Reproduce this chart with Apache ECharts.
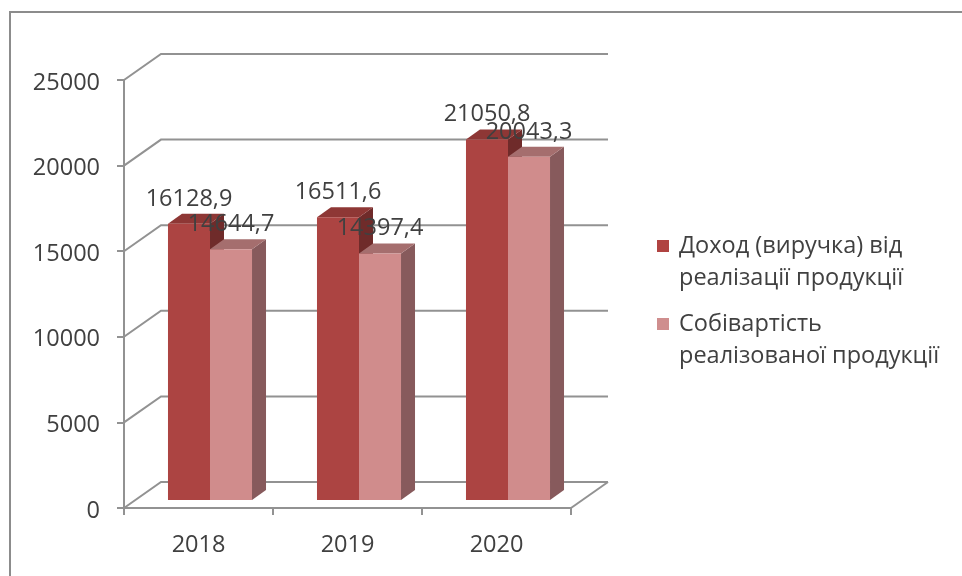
<!DOCTYPE html>
<html>
<head>
<meta charset="utf-8">
<style>html,body{margin:0;padding:0;background:#fff}#chart{width:962px;height:576px}</style>
<script src="https://cdn.jsdelivr.net/npm/echarts@6/dist/echarts.min.js"></script>
</head>
<body>
<div id="chart"></div>
<script>
const categories = ['2018', '2019', '2020'];
const revenue = [16128.9, 16511.6, 21050.8];
const cost = [14644.7, 14397.4, 20043.3];
const revenueName = 'Доход (виручка) від\nреалізації продукції';
const costName = 'Собівартість\nреалізованої продукції';
const yTicks = [0, 5000, 10000, 15000, 20000, 25000];

const FONT = '"Open Sans", sans-serif';
const FONT_SIZE = 23.5;
const TEXT = '#404040';
const LINE = '#929292';
const WALL = { dx: 37, dy: -26 };        // depth of the back wall
const BAR = { dx: 14, dy: -10, inset: 11.5, drop: 8, share: 0.282 };

const fmt = v => String(v).replace('.', ',');

// Back wall and floor: each tick runs diagonally back from the axis, then along the wall.
function renderWall(params, api) {
  const cs = params.coordSys;
  const y = api.coord([0, api.value(1)])[1];
  const children = [{
    type: 'polyline',
    shape: { points: [[cs.x, y], [cs.x + WALL.dx, y + WALL.dy], [cs.x + cs.width + WALL.dx, y + WALL.dy]] },
    style: { stroke: LINE, lineWidth: 2, fill: null }
  }];
  if (api.value(1) === 0) {
    children.push({
      type: 'line',
      shape: { x1: cs.x + cs.width, y1: y, x2: cs.x + cs.width + WALL.dx, y2: y + WALL.dy },
      style: { stroke: LINE, lineWidth: 2 }
    });
  }
  return { type: 'group', children };
}

// Extruded column: front face, top and right side, with the value above it.
function makeBar(slot, colors) {
  return function (params, api) {
    const c = api.value(0), v = api.value(1);
    const p = api.coord([c, v]);
    const base = api.coord([c, 0]);
    const w = api.size([1, 0])[0] * BAR.share;
    const x0 = p[0] + BAR.inset + (slot === 0 ? -w : 0);
    const x1 = x0 + w;
    const bottom = base[1] - BAR.drop;
    const fTop = p[1] - BAR.drop;
    const dx = BAR.dx, dy = BAR.dy;
    return {
      type: 'group',
      children: [
        { type: 'polygon', shape: { points: [[x1, fTop], [x1 + dx, fTop + dy], [x1 + dx, bottom + dy], [x1, bottom]] }, style: { fill: colors.side } },
        { type: 'polygon', shape: { points: [[x0, fTop], [x0 + dx, fTop + dy], [x1 + dx, fTop + dy], [x1, fTop]] }, style: { fill: colors.top } },
        { type: 'rect', shape: { x: x0, y: fTop, width: w, height: bottom - fTop }, style: { fill: colors.front } },
        { type: 'text', z2: 100, style: { text: fmt(v), x: (x0 + x1) / 2, y: fTop - 25, align: 'center', verticalAlign: 'middle', fill: TEXT, font: FONT_SIZE + 'px ' + FONT } }
      ]
    };
  };
}

const revColors = { front: '#AC4442', top: '#8E3735', side: '#6F2B2A' };
const costColors = { front: '#D08C8C', top: '#A56E6E', side: '#875A5C' };

const legendIcon = 'path://M0 0H12V12H0Z M12 44L12 44';

const option = {
  animation: false,
  backgroundColor: '#fff',
  grid: { left: 124, top: 80, width: 447, height: 428, containLabel: false },
  legend: {
    orient: 'vertical', left: 652, top: 225,
    itemWidth: 12, itemHeight: 44, itemGap: 14,
    selectedMode: false,
    textStyle: { fontFamily: FONT, fontSize: FONT_SIZE, color: TEXT, lineHeight: 32, padding: [0, 0, 0, 5] },
    data: [
      { name: revenueName, icon: legendIcon, itemStyle: { color: '#B04341', borderWidth: 0 } },
      { name: costName, icon: legendIcon, itemStyle: { color: '#CF8E8E', borderWidth: 0 } }
    ]
  },
  xAxis: {
    type: 'category', data: categories, boundaryGap: true,
    axisLine: { show: true, lineStyle: { color: LINE, width: 2 } },
    axisTick: { show: true, alignWithLabel: false, length: 7, lineStyle: { color: LINE, width: 2 } },
    axisLabel: { margin: 25, color: TEXT, fontFamily: FONT, fontSize: FONT_SIZE },
    splitLine: { show: false }
  },
  yAxis: {
    type: 'value', min: 0, max: 25000, interval: 5000,
    axisLine: { show: true, lineStyle: { color: LINE, width: 2 } },
    axisTick: { show: true, length: 7, lineStyle: { color: LINE, width: 2 } },
    axisLabel: {
      margin: 24, color: TEXT, fontFamily: FONT, fontSize: FONT_SIZE,
      formatter: v => '{t|' + v + '}',
      rich: { t: { color: TEXT, fontFamily: FONT, fontSize: FONT_SIZE, padding: [6, 0, 0, 0] } }
    },
    splitLine: { show: false }
  },
  graphic: [{
    type: 'rect', silent: true, z: -1,
    shape: { x: 10, y: 12, width: 1000, height: 700 },
    style: { fill: '#fff', stroke: '#8C8C8C', lineWidth: 2 }
  }],
  series: [
    { type: 'custom', name: 'walls', silent: true, z: 1, renderItem: renderWall, data: yTicks.map(v => [0, v]), encode: { x: 0, y: 1 } },
    { type: 'custom', name: revenueName, z: 2, renderItem: makeBar(0, revColors), itemStyle: { color: '#B04341' }, data: revenue.map((v, i) => [i, v]), encode: { x: 0, y: 1 } },
    { type: 'custom', name: costName, z: 3, renderItem: makeBar(1, costColors), itemStyle: { color: '#CF8E8E' }, data: cost.map((v, i) => [i, v]), encode: { x: 0, y: 1 } }
  ]
};

echarts.init(document.getElementById('chart'), null, { renderer: 'canvas' }).setOption(option);
</script>
</body>
</html>
